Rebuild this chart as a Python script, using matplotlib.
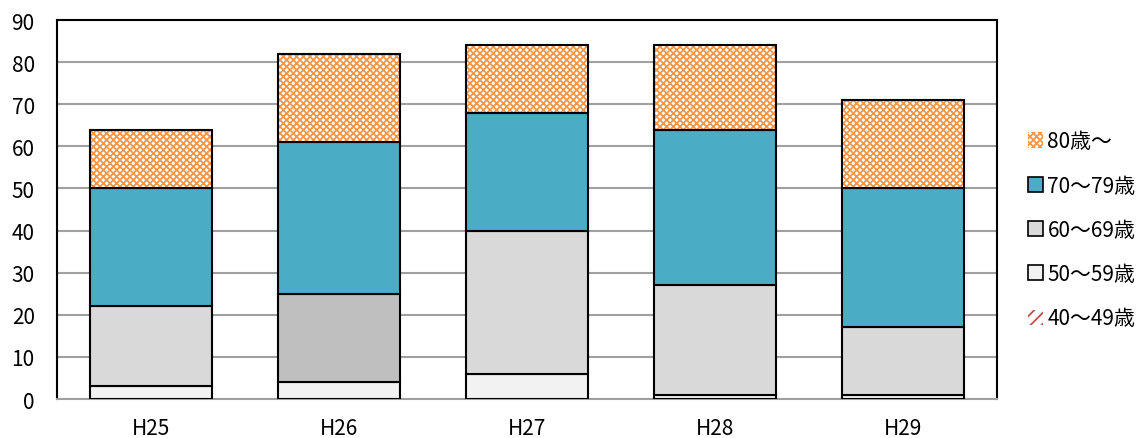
import matplotlib
matplotlib.use('Agg')
import matplotlib.pyplot as plt
from matplotlib.patches import Patch
import numpy as np

plt.rcParams['font.family'] = ['Noto Sans CJK JP', 'DejaVu Sans']
plt.rcParams['hatch.linewidth'] = 1.3

years = ['H25', 'H26', 'H27', 'H28', 'H29']
age_40s = [0, 0, 0, 0, 0]
age_50s = [3, 4, 6, 1, 1]
age_60s = [19, 21, 34, 26, 16]
age_70s = [28, 36, 28, 37, 33]
age_80s = [14, 21, 16, 20, 21]

labels = ['40～49歳', '50～59歳', '60～69歳', '70～79歳', '80歳～']

fig = plt.figure(figsize=(11.44, 4.39), dpi=100)
ax = fig.add_axes([0.0498, 0.0888, 0.8217, 0.8633])

x = np.arange(len(years))
w = 0.65
c60 = ['#D9D9D9', '#BFBFBF', '#D9D9D9', '#D9D9D9', '#D9D9D9']

b = np.zeros(len(years))
ax.bar(x, age_40s, w, bottom=b, color='white', edgecolor='black', lw=1.5, zorder=3)
b += age_40s
ax.bar(x, age_50s, w, bottom=b, color='#F2F2F2', edgecolor='black', lw=1.5, zorder=3)
b += age_50s
ax.bar(x, age_60s, w, bottom=b, color=c60, edgecolor='black', lw=1.5, zorder=3)
b += age_60s
ax.bar(x, age_70s, w, bottom=b, color='#4BACC6', edgecolor='black', lw=1.5, zorder=3)
b += age_70s
# hatch layer then black outline
ax.bar(x, age_80s, w, bottom=b, color='white', edgecolor='#F79646', hatch='xxxxx', lw=0, zorder=3)
ax.bar(x, age_80s, w, bottom=b, color='none', edgecolor='black', lw=1.5, zorder=4)

ax.set_xlim(-0.5, 4.5)
ax.set_ylim(0, 90)
ax.set_yticks(range(0, 91, 10))
ax.set_xticks(x)
ax.set_xticklabels(years)
ax.tick_params(axis='y', length=0, labelsize=15, pad=16)
ax.tick_params(axis='x', length=0, labelsize=15, pad=13)
ax.grid(axis='y', color='#A0A0A0', lw=1.5, zorder=0)
for s in ['top', 'left', 'right']:
    ax.spines[s].set_color('black')
    ax.spines[s].set_linewidth(1.5)
ax.spines['bottom'].set_color('#A0A0A0')
ax.spines['bottom'].set_linewidth(1.5)

handles = [
    Patch(facecolor='white', edgecolor='#F79646', hatch='xxxxx', lw=0),
    Patch(facecolor='#4BACC6', edgecolor='black', lw=1.2),
    Patch(facecolor='#D9D9D9', edgecolor='black', lw=1.2),
    Patch(facecolor='#F2F2F2', edgecolor='black', lw=1.2),
    Patch(facecolor='white', edgecolor='#C0504D', hatch='///', lw=0),
]
leg_labels = labels[::-1]
fig.legend(handles, leg_labels, loc='upper left', bbox_to_anchor=(0.891, 0.72),
           frameon=False, fontsize=15, handlelength=0.75, handleheight=0.75,
           handletextpad=0.2, labelspacing=1.07, borderaxespad=0)

fig.savefig('out.png', dpi=100)
